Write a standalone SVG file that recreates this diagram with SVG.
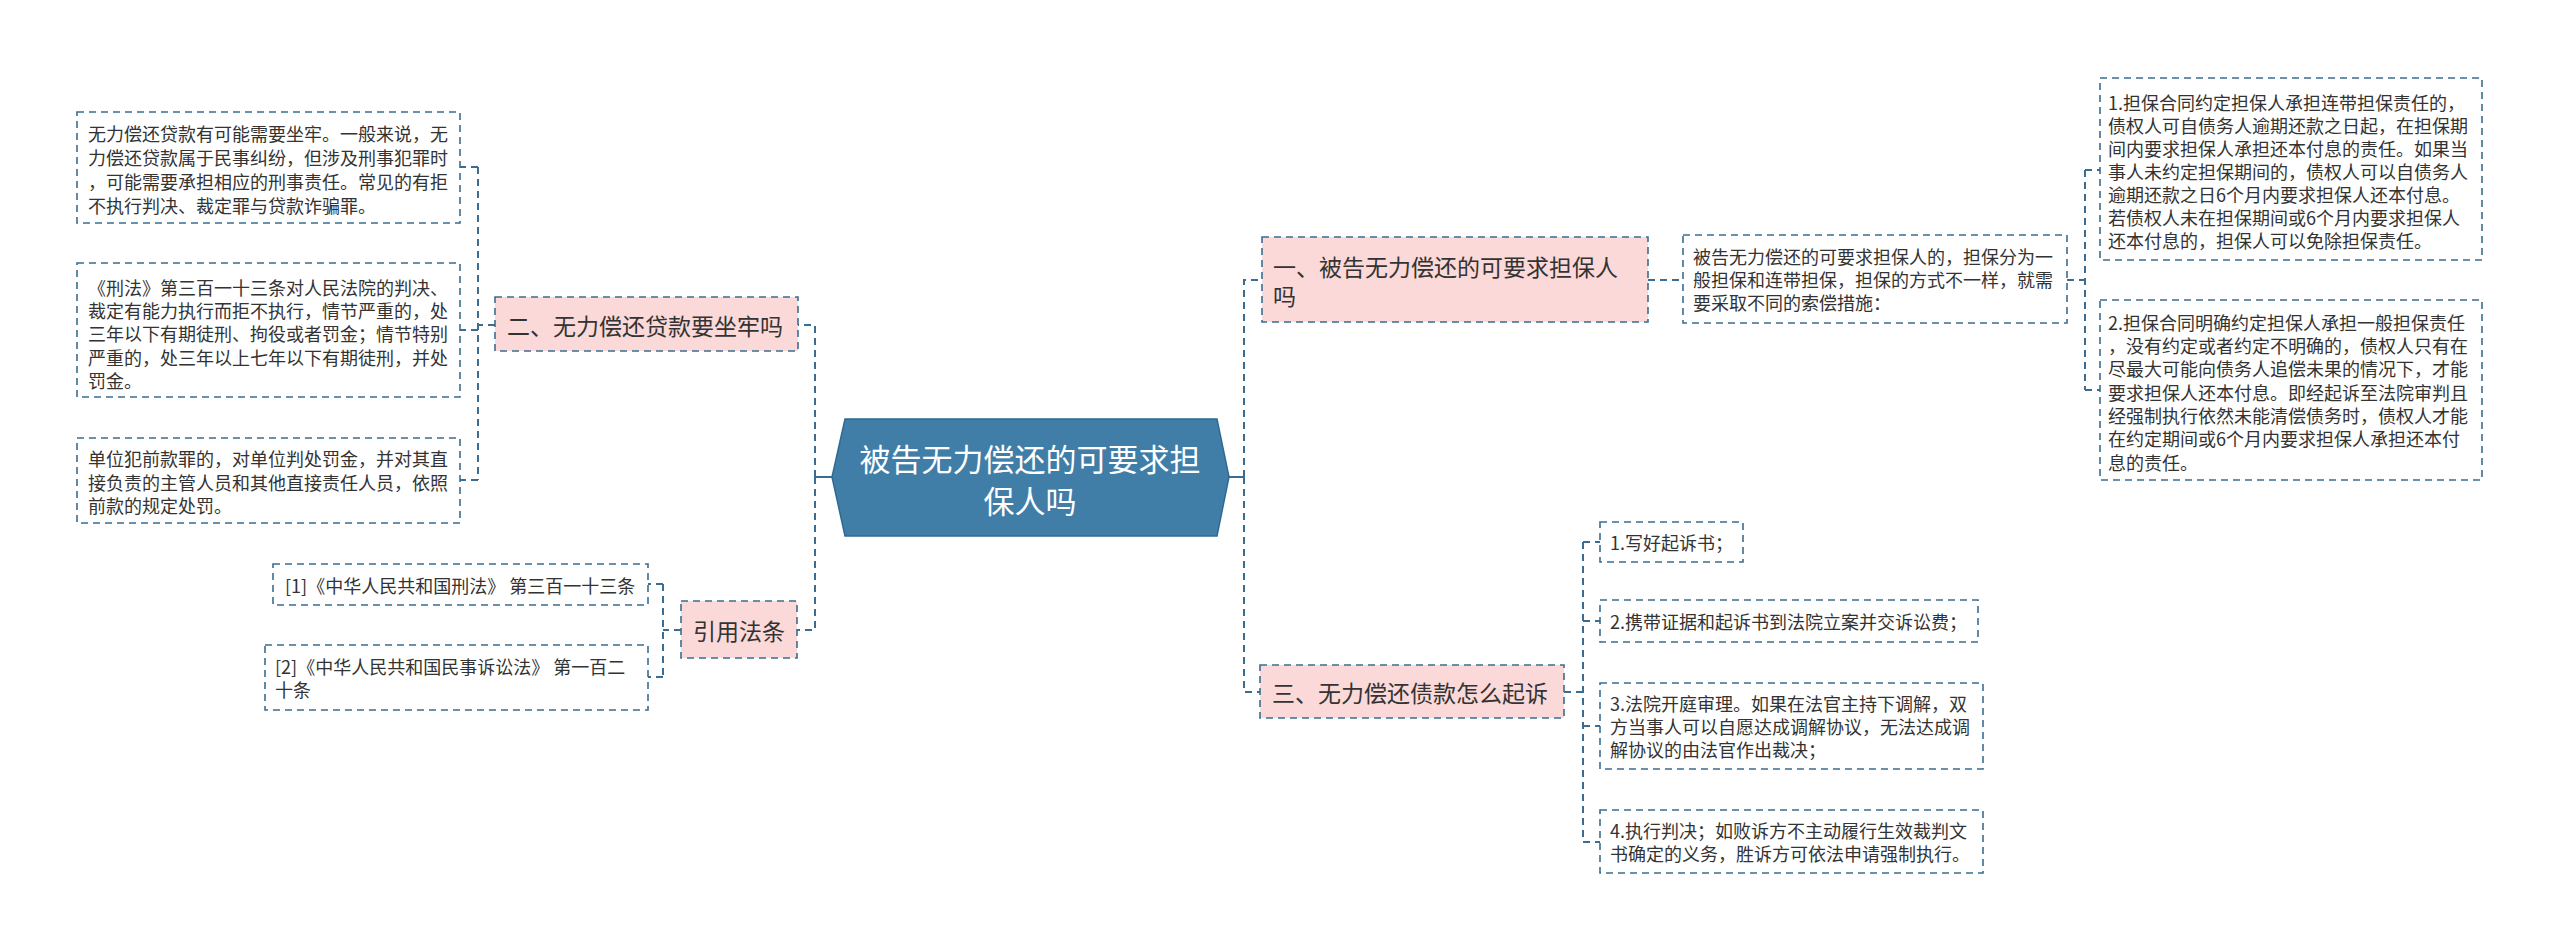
<svg xmlns="http://www.w3.org/2000/svg" width="2560" height="952" viewBox="0 0 2560 952">
<style>
.bx{fill:#ffffff;stroke:#3a6d91;stroke-width:1.6;stroke-dasharray:7 5}
.pk{fill:#fbd9d9;stroke:#3a6d91;stroke-width:1.6;stroke-dasharray:7 5}
.conn{fill:none;stroke:#3a6d91;stroke-width:2;stroke-dasharray:7 5}
.solid{fill:none;stroke:#3a6d91;stroke-width:2}
text{font-family:"Noto Sans CJK SC","Noto Sans",sans-serif;fill:#333333;dominant-baseline:central}
.s{font-size:18px}
.m{font-size:23px}
.c{font-size:31px;fill:#ffffff;text-anchor:middle}
</style>
<rect width="2560" height="952" fill="#ffffff"/>
<g id="connectors">
<path class="solid" d="M832,477 H815"/>
<path class="conn" d="M815,477 V325 H798 M815,477 V630 H797"/>
<path class="conn" d="M495,325 H478 M478,167 V480 M478,167 H460 M478,330 H460 M478,480 H460"/>
<path class="conn" d="M681,630 H663 M663,584 V677 M663,584 H648 M663,677 H648"/>
<path class="solid" d="M1229,477 H1244"/>
<path class="conn" d="M1244,477 V280 H1262 M1244,477 V692 H1260"/>
<path class="conn" d="M1648,280 H1683"/>
<path class="conn" d="M2067,280 H2085 M2085,170 V390 M2085,170 H2100 M2085,390 H2100"/>
<path class="conn" d="M1564,692 H1583 M1583,542 V842 M1583,542 H1600 M1583,621 H1600 M1583,726 H1600 M1583,842 H1600"/>
</g>
<g id="root">
<polygon points="845,419 1217,419 1229,477 1217,536 845,536 832,477" fill="#407ea8" stroke="#2f6a93" stroke-width="1.5"/>
<text class="c" x="1030" y="457">被告无力偿还的可要求担</text>
<text class="c" x="1030" y="499">保人吗</text>
</g>
<g id="n2">
<rect class="pk" x="495" y="297" width="303" height="54"/>
<text class="m" x="507" y="325">二、无力偿还贷款要坐牢吗</text>
</g>
<g id="n2a">
<rect class="bx" x="77" y="112" width="383" height="111"/>
<text class="s" x="88" y="133">无力偿还贷款有可能需要坐牢。一般来说，无</text>
<text class="s" x="88" y="157">力偿还贷款属于民事纠纷，但涉及刑事犯罪时</text>
<text class="s" x="88" y="181">，可能需要承担相应的刑事责任。常见的有拒</text>
<text class="s" x="88" y="205">不执行判决、裁定罪与贷款诈骗罪。</text>
</g>
<g id="n2b">
<rect class="bx" x="77" y="263" width="383" height="134"/>
<text class="s" x="88" y="287">《刑法》第三百一十三条对人民法院的判决、</text>
<text class="s" x="88" y="310">裁定有能力执行而拒不执行，情节严重的，处</text>
<text class="s" x="88" y="333">三年以下有期徒刑、拘役或者罚金；情节特别</text>
<text class="s" x="88" y="357">严重的，处三年以上七年以下有期徒刑，并处</text>
<text class="s" x="88" y="380">罚金。</text>
</g>
<g id="n2c">
<rect class="bx" x="77" y="438" width="383" height="85"/>
<text class="s" x="88" y="458">单位犯前款罪的，对单位判处罚金，并对其直</text>
<text class="s" x="88" y="482">接负责的主管人员和其他直接责任人员，依照</text>
<text class="s" x="88" y="505">前款的规定处罚。</text>
</g>
<g id="n4">
<rect class="pk" x="681" y="601" width="116" height="57"/>
<text class="m" x="693" y="630">引用法条</text>
</g>
<g id="n4a">
<rect class="bx" x="273" y="564" width="375" height="41"/>
<text class="s" x="285" y="585">[1]《中华人民共和国刑法》 第三百一十三条</text>
</g>
<g id="n4b">
<rect class="bx" x="265" y="645" width="383" height="65"/>
<text class="s" x="275" y="666">[2]《中华人民共和国民事诉讼法》 第一百二</text>
<text class="s" x="275" y="689">十条</text>
</g>
<g id="n1">
<rect class="pk" x="1262" y="237" width="386" height="85"/>
<text class="m" x="1273" y="266">一、被告无力偿还的可要求担保人</text>
<text class="m" x="1273" y="295">吗</text>
</g>
<g id="n1a">
<rect class="bx" x="1683" y="235" width="384" height="88"/>
<text class="s" x="1693" y="256">被告无力偿还的可要求担保人的，担保分为一</text>
<text class="s" x="1693" y="279">般担保和连带担保，担保的方式不一样，就需</text>
<text class="s" x="1693" y="302">要采取不同的索偿措施：</text>
</g>
<g id="n1b">
<rect class="bx" x="2100" y="78" width="382" height="182"/>
<text class="s" x="2108" y="102">1.担保合同约定担保人承担连带担保责任的，</text>
<text class="s" x="2108" y="125">债权人可自债务人逾期还款之日起，在担保期</text>
<text class="s" x="2108" y="148">间内要求担保人承担还本付息的责任。如果当</text>
<text class="s" x="2108" y="171">事人未约定担保期间的，债权人可以自债务人</text>
<text class="s" x="2108" y="194">逾期还款之日6个月内要求担保人还本付息。</text>
<text class="s" x="2108" y="217">若债权人未在担保期间或6个月内要求担保人</text>
<text class="s" x="2108" y="240">还本付息的，担保人可以免除担保责任。</text>
</g>
<g id="n1c">
<rect class="bx" x="2100" y="300" width="382" height="180"/>
<text class="s" x="2108" y="322">2.担保合同明确约定担保人承担一般担保责任</text>
<text class="s" x="2108" y="345">，没有约定或者约定不明确的，债权人只有在</text>
<text class="s" x="2108" y="368">尽最大可能向债务人追偿未果的情况下，才能</text>
<text class="s" x="2108" y="392">要求担保人还本付息。即经起诉至法院审判且</text>
<text class="s" x="2108" y="415">经强制执行依然未能清偿债务时，债权人才能</text>
<text class="s" x="2108" y="438">在约定期间或6个月内要求担保人承担还本付</text>
<text class="s" x="2108" y="462">息的责任。</text>
</g>
<g id="n3">
<rect class="pk" x="1260" y="665" width="304" height="53"/>
<text class="m" x="1272" y="692">三、无力偿还债款怎么起诉</text>
</g>
<g id="n3a">
<rect class="bx" x="1600" y="522" width="143" height="40"/>
<text class="s" x="1610" y="542">1.写好起诉书；</text>
</g>
<g id="n3b">
<rect class="bx" x="1600" y="600" width="378" height="42"/>
<text class="s" x="1610" y="621">2.携带证据和起诉书到法院立案并交诉讼费；</text>
</g>
<g id="n3c">
<rect class="bx" x="1600" y="683" width="383" height="86"/>
<text class="s" x="1610" y="703">3.法院开庭审理。如果在法官主持下调解，双</text>
<text class="s" x="1610" y="726">方当事人可以自愿达成调解协议，无法达成调</text>
<text class="s" x="1610" y="749">解协议的由法官作出裁决；</text>
</g>
<g id="n3d">
<rect class="bx" x="1600" y="810" width="383" height="63"/>
<text class="s" x="1610" y="830">4.执行判决；如败诉方不主动履行生效裁判文</text>
<text class="s" x="1610" y="853">书确定的义务，胜诉方可依法申请强制执行。</text>
</g>
</svg>
